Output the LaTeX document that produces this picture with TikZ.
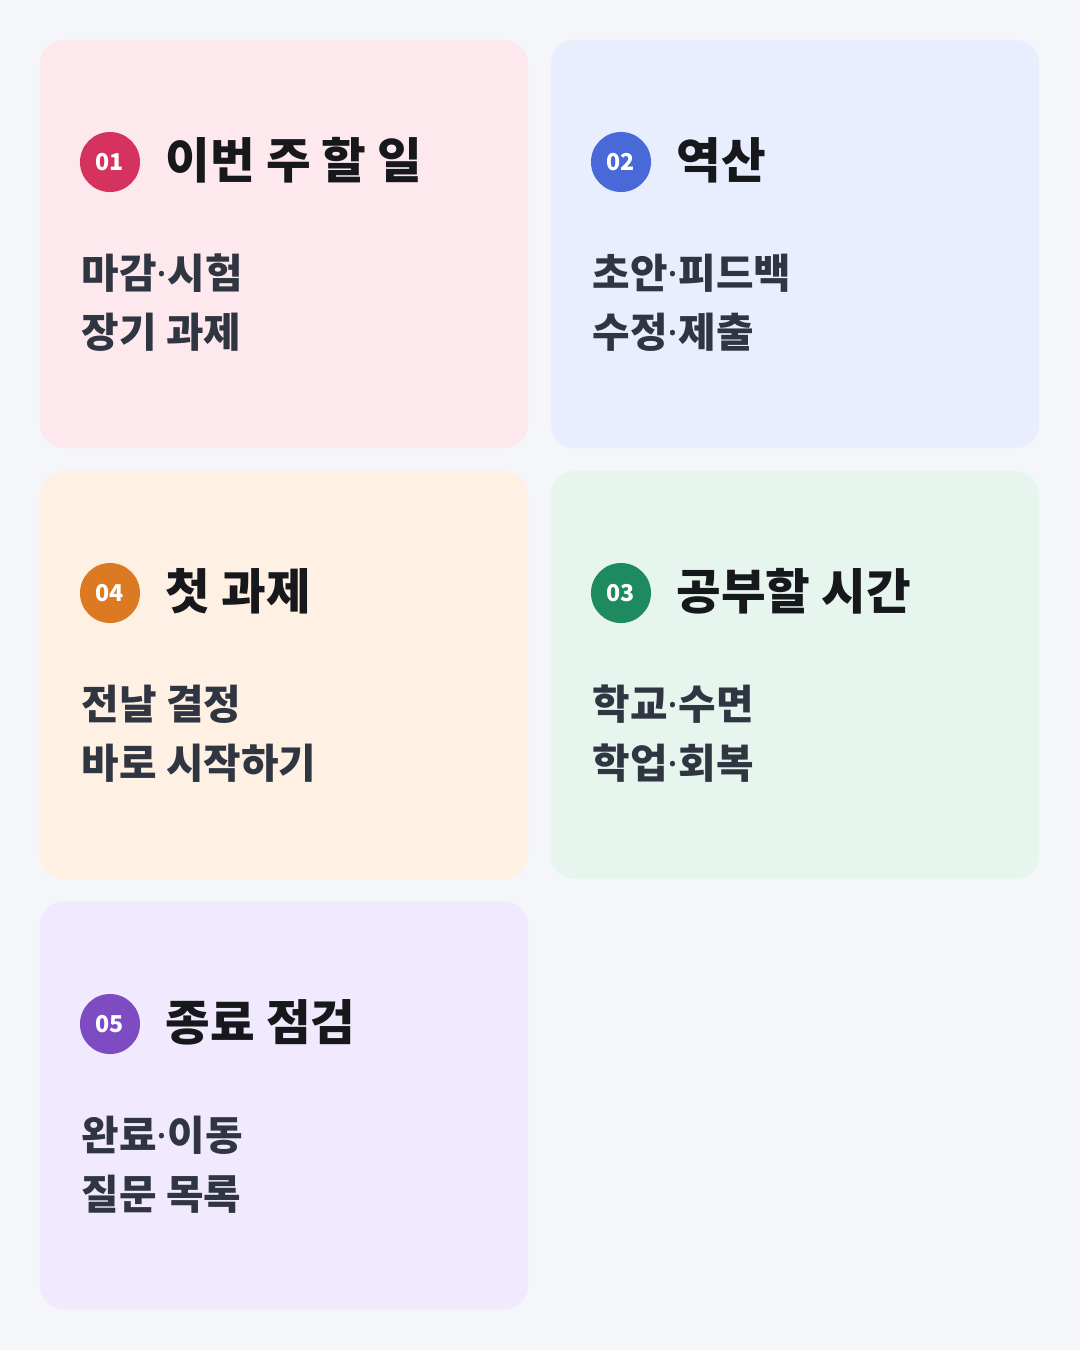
\documentclass[tikz,border=0pt]{standalone}
\usepackage{fontspec}
\setmainfont{Noto Sans CJK KR}
\newfontfamily\dotfont{Noto Sans}
\usetikzlibrary{backgrounds}
\definecolor{pagebg}{HTML}{F4F6F9}
\definecolor{linkgray}{HTML}{BEC6CE}
\definecolor{titleink}{HTML}{17181C}
\definecolor{bodyink}{HTML}{2F3541}
\definecolor{fillone}{HTML}{FDE8EE}
\definecolor{filltwo}{HTML}{E8EEFD}
\definecolor{fillthree}{HTML}{E6F6EF}
\definecolor{fillfour}{HTML}{FEF1E3}
\definecolor{fillfive}{HTML}{F1E9FE}
\definecolor{dotone}{HTML}{D5325F}
\definecolor{dottwo}{HTML}{4A69D8}
\definecolor{dotthree}{HTML}{1E8A60}
\definecolor{dotfour}{HTML}{DC7A22}
\definecolor{dotfive}{HTML}{7E4CC2}
\newcommand{\cardw}{4.88cm}
\newcommand{\cardh}{4.08cm}
\newcommand{\titlesize}{\fontsize{13.8pt}{16pt}\selectfont\bfseries}
\newcommand{\bodysize}{\fontsize{11.6pt}{14pt}\selectfont\bfseries}
\newcommand{\md}{{\dotfont\bfseries ·}}

\begin{document}
\begin{tikzpicture}[x=0.01cm,y=-0.01cm,
  card/.style={rectangle,rounded corners=6.8pt,minimum width=\cardw,minimum height=\cardh,inner sep=0pt},
  badge/.style={circle,minimum size=0.6cm,inner sep=0pt,text=white,font=\fontsize{6.6pt}{7pt}\selectfont\bfseries},
  title/.style={anchor=base west,inner sep=0pt,text=titleink,font=\titlesize},
  body/.style={anchor=base west,inner sep=0pt,text=bodyink,font=\bodysize},
  link/.style={draw=linkgray,line width=2.3pt}]
\fill[pagebg] (0,0) rectangle (1080,1350);
\useasboundingbox (0,0) rectangle (1080,1350);
%cards
\node[card,fill=fillone] (b1) at (284,244) {};
\node[card,fill=filltwo] (b2) at (795,244) {};
\node[card,fill=fillthree] (b3) at (795,675) {};
\node[card,fill=fillfour] (b4) at (284,675) {};
\node[card,fill=fillfive] (b5) at (284,1105.5) {};
%links
\begin{scope}[on background layer]
\draw[link] (b1.east) -- (b2.west);
\draw[link] (b2.south) -- (b3.north);
\draw[link] (b3.west) -- (b4.east);
\draw[link] (b4.south) -- (b5.north);
\end{scope}
%01
\node[badge,fill=dotone] (n1) at (110,162) {01};
\node[title] (h1) at (165,178) {이번 주 할 일};
\node[body] (l1a) at (81,288) {마감\md 시험};
\node[body] (l1b) at (81,347) {장기 과제};
%02
\node[badge,fill=dottwo] (n2) at (621,162) {02};
\node[title] (h2) at (676,178) {역산};
\node[body] (l2a) at (592,288) {초안\md 피드백};
\node[body] (l2b) at (592,347) {수정\md 제출};
%03
\node[badge,fill=dotthree] (n3) at (621,593) {03};
\node[title] (h3) at (676,609) {공부할 시간};
\node[body] (l3a) at (592,719) {학교\md 수면};
\node[body] (l3b) at (592,778) {학업\md 회복};
%04
\node[badge,fill=dotfour] (n4) at (110,593) {04};
\node[title] (h4) at (165,609) {첫 과제};
\node[body] (l4a) at (81,719) {전날 결정};
\node[body] (l4b) at (81,778) {바로 시작하기};
%05
\node[badge,fill=dotfive] (n5) at (110,1024) {05};
\node[title] (h5) at (165,1040) {종료 점검};
\node[body] (l5a) at (81,1150) {완료\md 이동};
\node[body] (l5b) at (81,1209) {질문 목록};
\end{tikzpicture}
\end{document}
